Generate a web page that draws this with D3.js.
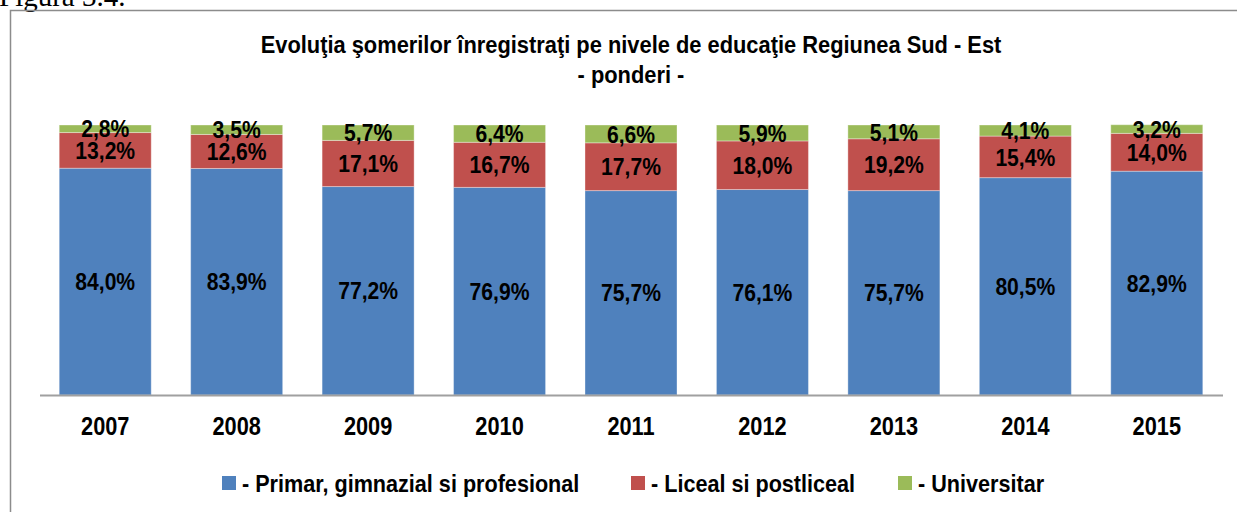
<!DOCTYPE html>
<html>
<head>
<meta charset="utf-8">
<script src="https://cdn.jsdelivr.net/npm/d3@7"></script>
<style>
  body { margin: 0; background: #fff; }
  text { font-family: "Liberation Sans", Arial, sans-serif; font-weight: bold; }
</style>
</head>
<body>
<svg id="chart" width="1237" height="512"></svg>
<script>

// data (percent shares)
var years = ["2007", "2008", "2009", "2010", "2011", "2012", "2013", "2014", "2015"];
var primar = [84.0, 83.9, 77.2, 76.9, 75.7, 76.1, 75.7, 80.5, 82.9];
var liceal = [13.2, 12.6, 17.1, 16.7, 17.7, 18.0, 19.2, 15.4, 14.0];
var universitar = [2.8, 3.5, 5.7, 6.4, 6.6, 5.9, 5.1, 4.1, 3.2];

var seriesNames = ["- Primar, gimnazial si profesional", "- Liceal si postliceal", "- Universitar"];
var COLORS = ["#4F81BD", "#C0504D", "#9BBB59"];

var svg = d3.select("#chart");

// squeeze a text horizontally (the original uses a narrow font)
function condense(sel, f) {
	sel.each(function() {
		var len = this.getComputedTextLength();
		d3.select(this)
			.attr("textLength", len * f)
			.attr("lengthAdjust", "spacingAndGlyphs");
	});
}

// caption above the frame, clipped by the top of the page
svg.append("text")
	.attr("x", -1)
	.attr("y", 6)
	.style("font-family", "'Liberation Serif', 'Times New Roman', serif")
	.style("font-weight", "normal")
	.style("font-size", "29px")
	.text("Figura 3.4.");

// chart frame
svg.append("rect")
	.attr("x", 10.5)
	.attr("y", 10.5)
	.attr("width", 1240)
	.attr("height", 520)
	.attr("fill", "none")
	.attr("stroke", "#8c8c8c")
	.attr("stroke-width", 1.5);

// title
var t1 = svg.append("text")
	.attr("x", 631).attr("y", 53)
	.attr("text-anchor", "middle")
	.style("font-size", "23px")
	.text("Evoluţia şomerilor înregistraţi pe nivele de educaţie Regiunea Sud - Est");
var t2 = svg.append("text")
	.attr("x", 631).attr("y", 83)
	.attr("text-anchor", "middle")
	.style("font-size", "23px")
	.text("- ponderi -");
condense(t1, 0.95);
condense(t2, 0.95);

var x = d3.scaleBand()
	.domain(years)
	.range([39.5, 1222.5])
	.paddingInner(0.3)
	.paddingOuter(0.15);

var y = d3.scaleLinear()
	.domain([0, 100])
	.range([395, 125]);

var rows = years.map(function(d, i) {
	return { year: d, p: primar[i], l: liceal[i], u: universitar[i] };
});

var stack = d3.stack().keys(["p", "l", "u"]);
var layers = stack(rows);

var groups = svg.selectAll("g.layer")
	.data(layers)
	.enter().append("g")
	.attr("class", "layer")
	.attr("fill", function(d, i) { return COLORS[i]; });

groups.selectAll("rect")
	.data(function(d) { return d; })
	.enter().append("rect")
	.attr("x", function(d) { return x(d.data.year); })
	.attr("y", function(d) { return y(d[1]); })
	.attr("width", x.bandwidth())
	.attr("height", function(d) { return y(d[0]) - y(d[1]); })
	.attr("stroke", "rgba(255,255,255,0.35)")
	.attr("stroke-width", 1);

// value labels centred in each segment
var labels = groups.selectAll("text")
	.data(function(d) { return d; })
	.enter().append("text")
	.attr("x", function(d) { return x(d.data.year) + x.bandwidth() / 2; })
	.attr("y", function(d) { return (y(d[0]) + y(d[1])) / 2; })
	.attr("dy", "0.36em")
	.attr("text-anchor", "middle")
	.attr("fill", "#000")
	.style("font-size", "24px")
	.text(function(d) { return (d[1] - d[0]).toFixed(1).replace(".", ",") + "%"; });
condense(labels, 0.88);

// x axis
var xAxis = svg.append("g")
	.attr("transform", "translate(0,395)")
	.call(d3.axisBottom(x).tickSize(0).tickPadding(22));
xAxis.select(".domain").attr("stroke", "#a0a0a0").attr("stroke-width", 2);
var ticks = xAxis.selectAll("text")
	.style("font-size", "25px")
	.style("font-family", null)
	.attr("fill", "#000");
condense(ticks, 0.87);

// legend
var legendX = [222, 631, 898];
var legend = svg.selectAll("g.legend")
	.data(seriesNames)
	.enter().append("g")
	.attr("class", "legend")
	.attr("transform", function(d, i) { return "translate(" + legendX[i] + ",476)"; });
legend.append("rect")
	.attr("width", 14)
	.attr("height", 14)
	.attr("fill", function(d, i) { return COLORS[i]; });
var legendText = legend.append("text")
	.attr("x", 20)
	.attr("y", 7)
	.attr("dy", "0.36em")
	.style("font-size", "24px")
	.text(function(d) { return d; });
condense(legendText, 0.9);

</script>
</body>
</html>
